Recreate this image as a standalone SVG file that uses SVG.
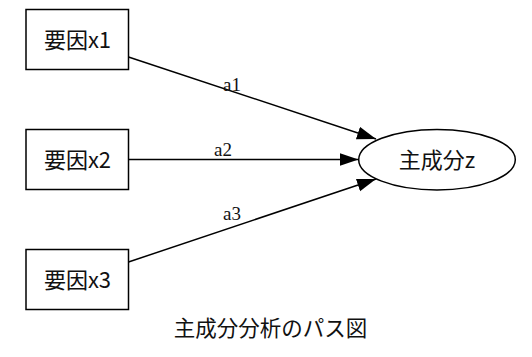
<svg xmlns="http://www.w3.org/2000/svg" width="532" height="357" viewBox="0 0 532 357">
<defs>
<style>
.box{fill:#fff;stroke:#000;stroke-width:1.5}
.t{font-family:"Noto Sans CJK JP","Noto Sans",sans-serif;font-size:22px;fill:#111;text-anchor:middle}
.e{stroke:#000;stroke-width:1.5;fill:none}
.l{font-family:"Liberation Serif",serif;font-size:19px;fill:#111;text-anchor:middle}
</style>
<marker id="ah" markerUnits="userSpaceOnUse" markerWidth="20" markerHeight="14" refX="19" refY="6.5" orient="auto">
<path d="M0,0 L19,6.5 L0,13 Z" fill="#000"/>
</marker>
</defs>
<rect width="532" height="357" fill="#fff"/>
<g id="edges">
<line class="e" x1="128.5" y1="57" x2="376" y2="139" marker-end="url(#ah)"/>
<line class="e" x1="128.5" y1="159.5" x2="358.5" y2="159.5" marker-end="url(#ah)"/>
<line class="e" x1="128.5" y1="262" x2="376" y2="179" marker-end="url(#ah)"/>
<text class="l" x="232" y="90.5">a1</text>
<text class="l" x="223" y="156">a2</text>
<text class="l" x="232" y="219.5">a3</text>
</g>
<g id="x1"><rect class="box" x="26" y="9.5" width="102.5" height="60"/><text class="t" x="77.5" y="47.5">要因x1</text></g>
<g id="x2"><rect class="box" x="26" y="129.5" width="102.5" height="60"/><text class="t" x="77.5" y="167.5">要因x2</text></g>
<g id="x3"><rect class="box" x="26" y="249.5" width="102.5" height="60"/><text class="t" x="77.5" y="287.5">要因x3</text></g>
<g id="z"><ellipse class="box" cx="437" cy="159.7" rx="78.3" ry="30.3"/><text class="t" x="437" y="167.5">主成分z</text></g>
<g id="title"><text class="t" x="270.5" y="336" style="font-size:21.5px">主成分分析のパス図</text></g>
</svg>
